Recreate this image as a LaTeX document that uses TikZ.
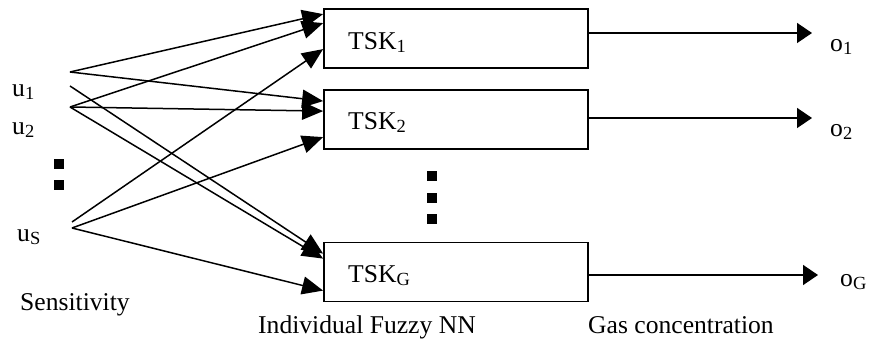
\documentclass[tikz,border=0pt]{standalone}
\usepackage{fontspec}
\setmainfont{Liberation Serif}
\usetikzlibrary{arrows.meta}
\newcommand\mysub[1]{\raisebox{-3pt}{\fontsize{18.5}{18.5}\selectfont #1}}
\begin{document}
\begin{tikzpicture}[x=1pt,y=-1pt,
  box/.style={draw, line width=1.8pt, minimum width=264pt, minimum height=59pt, inner sep=0pt},
  lbl/.style={anchor=base west, inner sep=0pt, font=\fontsize{25.6}{30}\selectfont},
  inarrow/.style={-{Triangle[length=21pt,width=18pt]}, line width=1.5pt},
  outarrow/.style={-{Triangle[length=15pt,width=20pt]}, line width=1.5pt},
  sq/.style={fill=black, minimum size=10pt, inner sep=0pt}]
\useasboundingbox (0,0) rectangle (877,344);

% boxes
\node[box] (b1) at (456,38.5) {};
\node[box] (b2) at (456,119.5) {};
\node[box] (bG) at (456,272) {};

% box texts
\node[lbl] (t1) at (348,50) {TSK\mysub{1}};
\node[lbl] (t2) at (348,130) {TSK\mysub{2}};
\node[lbl] (tG) at (348,283) {TSK\mysub{G}};

% input labels
\node[lbl] (u1) at (12,97) {u\mysub{1}};
\node[lbl] (u2) at (12,135) {u\mysub{2}};
\node[lbl] (uS) at (17,242) {u\mysub{S}};

% output labels
\node[lbl] (o1) at (830,52) {o\mysub{1}};
\node[lbl] (o2) at (830,137) {o\mysub{2}};
\node[lbl] (oG) at (840,287) {o\mysub{G}};

% captions
\node[lbl] (cap1) at (20,310) {Sensitivity};
\node[lbl] (cap2) at (258,333) {Individual Fuzzy NN};
\node[lbl] (cap3) at (588,333) {Gas concentration};

% dots
\node[sq] (ld1) at (59,164) {};
\node[sq] (ld2) at (59,185) {};
\node[sq] (md1) at (432,176) {};
\node[sq] (md2) at (432,198) {};
\node[sq] (md3) at (432,219) {};

% sources
\coordinate (s1a) at (70,72);
\coordinate (s1b) at (70,86);
\coordinate (s2) at (70,107);
\coordinate (sSa) at (72,222);
\coordinate (sSb) at (72,228);

% input connectors
\draw[inarrow] (s1a) -- ([yshift=-6pt]b1.north west);
\draw[inarrow] (s1a) -- ([yshift=-12pt]b2.north west);
\draw[inarrow] (s1b) -- ([yshift=-12pt]bG.north west);
\draw[inarrow] (s2) -- ([yshift=-15pt]b1.north west);
\draw[inarrow] (s2) -- ([yshift=-22pt]b2.north west);
\draw[inarrow] (s2) -- ([yshift=-17pt]bG.north west);
\draw[inarrow] (sSa) -- ([yshift=-41pt]b1.north west);
\draw[inarrow] (sSb) -- ([yshift=-48pt]b2.north west);
\draw[inarrow] (sSb) -- ([yshift=-49pt]bG.north west);

% outputs
\coordinate (e1) at (812,33);
\coordinate (e2) at (812,118);
\coordinate (eG) at (818,275);
\draw[outarrow] (e1 -| b1.east) -- (e1);
\draw[outarrow] (e2 -| b2.east) -- (e2);
\draw[outarrow] (eG -| bG.east) -- (eG);
\end{tikzpicture}
\end{document}
